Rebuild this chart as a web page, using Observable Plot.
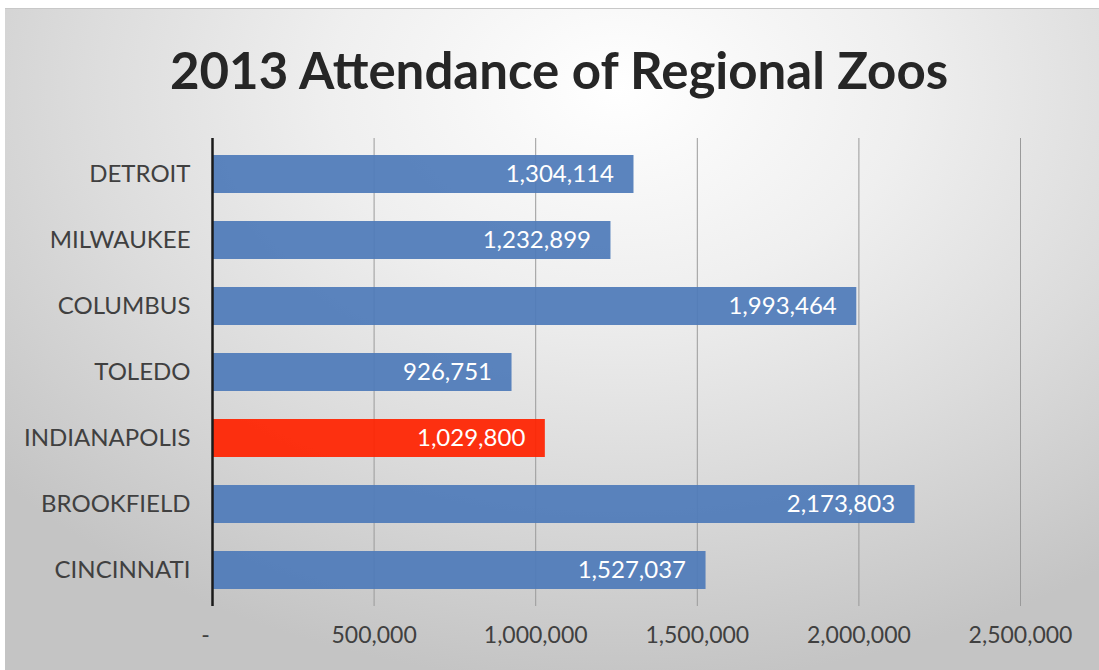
<!DOCTYPE html>
<html>
<head>
<meta charset="utf-8">
<script src="https://cdn.jsdelivr.net/npm/d3@7"></script>
<script src="https://cdn.jsdelivr.net/npm/@observablehq/plot@0.6"></script>
<style>
  html, body { margin: 0; padding: 0; background: #ffffff; width: 1099px; height: 670px; overflow: hidden; }
  #frame {
    position: absolute; left: 5px; top: 8px; width: 1094px; height: 662px;
    background: radial-gradient(ellipse 75% 90% at 56% 12%, #ffffff 0%, #efefef 35%, #dcdcdc 65%, #c4c4c4 100%);
    border-top: 1px solid #c8c8c8;
    font-family: Lato, "Open Sans", sans-serif;
  }
  #title {
    height: 120px; line-height: 122px; text-align: center;
    font-size: 51px; font-weight: 700; color: #262626; padding-left: 14px;
  }
  #chart { position: absolute; left: 0; top: 120px; }
</style>
</head>
<body>
<div id="frame">
  <div id="title">2013 Attendance of Regional Zoos</div>
  <div id="chart"></div>
</div>
<script>
const zoos = ["DETROIT", "MILWAUKEE", "COLUMBUS", "TOLEDO", "INDIANAPOLIS", "BROOKFIELD", "CINCINNATI"];
const attendance = [1304114, 1232899, 1993464, 926751, 1029800, 2173803, 1527037];
const highlight = "INDIANAPOLIS";
const xTicks = [0, 500000, 1000000, 1500000, 2000000, 2500000];

const data = zoos.map((z, i) => ({zoo: z, value: attendance[i]}));
const fmt = d3.format(",");

const chart = Plot.plot({
  width: 1094,
  height: 532,
  marginLeft: 207,
  marginRight: 79,
  marginTop: 9,
  marginBottom: 55,
  style: {background: "transparent", fontFamily: "Lato, 'Open Sans', sans-serif"},
  x: {domain: [0, 2500000], ticks: xTicks},
  y: {domain: zoos, paddingInner: 0.43, paddingOuter: 0.235},
  marks: [
    Plot.gridX(xTicks.slice(1), {stroke: "#9a9a9a", strokeOpacity: 1, strokeWidth: 1}),
    Plot.barX(data, {
      x: "value", y: "zoo",
      fill: d => d.zoo === highlight ? "#ff2200" : "#4f7bb9",
      fillOpacity: 0.93
    }),
    Plot.text(data, {
      x: "value", y: "zoo", text: d => fmt(d.value),
      textAnchor: "end", dx: -20, fill: "white", fontSize: 24
    }),
    Plot.ruleX([0], {stroke: "#1a1a1a", strokeWidth: 2.5}),
    Plot.axisX(xTicks.slice(1), {
      tickSize: 0, tickPadding: 20, fontSize: 23,
      tickFormat: d => fmt(d), fill: "#404040", label: null
    }),
    Plot.axisX([0], {
      tickSize: 0, tickPadding: 20, fontSize: 23, dx: -7,
      tickFormat: () => "-", fill: "#404040", label: null
    }),
    Plot.axisY({tickSize: 0, tickPadding: 22, fontSize: 24, fill: "#404040", label: null})
  ]
});
document.getElementById("chart").appendChild(chart);
</script>
</body>
</html>
